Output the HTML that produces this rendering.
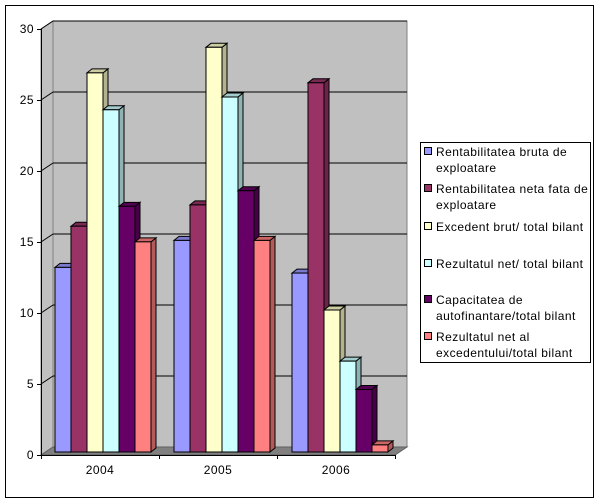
<!DOCTYPE html>
<html><head><meta charset="utf-8"><style>
body{margin:0;background:#fff;}
svg{display:block;font-family:"Liberation Sans",Arial,sans-serif;}
</style></head><body>
<svg id="s" width="600" height="504" xmlns="http://www.w3.org/2000/svg">
<rect x="5.5" y="5.5" width="588" height="492" fill="#fff" stroke="#000"/>
<polygon points="53,21 407,21 407,447 53,447" fill="#c0c0c0" stroke="#808080"/>
<polygon points="41,29 53,21 53,447 41,455" fill="#c0c0c0" stroke="#808080"/>
<polygon points="41,455 53,447 407,447 395,455" fill="#808080" stroke="#606060"/>
<g id="grid"></g>
<g id="bars"></g>
<line x1="41.5" y1="29" x2="41.5" y2="455" stroke="#000"/>
<line x1="41" y1="455.5" x2="395" y2="455.5" stroke="#000"/>
<g id="ax" font-size="12" letter-spacing="0.45"></g>
<rect x="420.5" y="142.5" width="170" height="220" fill="#fff" stroke="#000"/>
<g id="leg" font-size="12" letter-spacing="0.45"></g>
</svg>
<script>
var NS="http://www.w3.org/2000/svg";
function el(p,t,a,txt){var e=document.createElementNS(NS,t);for(var k in a)e.setAttribute(k,a[k]);if(txt)e.textContent=txt;document.getElementById(p).appendChild(e);}
var k=14.2;
for(var v=0;v<=30;v+=5){var yb=447-v*k,yf=455-v*k;
 if(v>0){el("grid","line",{x1:53,y1:yb,x2:407,y2:yb,stroke:"#000"});
 el("grid","line",{x1:41,y1:yf,x2:53,y2:yb,stroke:"#000"});}
 el("ax","line",{x1:37,y1:yf+.5,x2:41,y2:yf+.5,stroke:"#000"});
 el("ax","text",{x:34,y:yf+4,"text-anchor":"end"},String(v));}
[41,159,277,395].forEach(function(x){el("ax","line",{x1:x+.5,y1:455,x2:x+.5,y2:459,stroke:"#000"});});
["2004","2005","2006"].forEach(function(t,i){el("ax","text",{x:100+i*118,y:474,"text-anchor":"middle"},t);});
var cols=[["#9999ff","#6b6bb3","#7a7acc"],["#993366","#6b2447","#7a2952"],["#ffffcc","#b3b38f","#ccccA3"],["#ccffff","#8fb3b3","#a3cccc"],["#660066","#470047","#520052"],["#ff8080","#b35a5a","#cc6666"]];
var data=[[13,15.9,26.7,24.1,17.3,14.8],[14.9,17.4,28.5,25,18.4,14.9],[12.6,26,10,6.4,4.4,0.5]];
var starts=[55,174,292],w=16,dx=5,dy=4,base=452;
for(var g=0;g<3;g++)for(var s=0;s<6;s++){
 var x=starts[g]+s*w,y=base-data[g][s]*k,c=cols[s];
 el("bars","polygon",{points:[x+w,y,x+w+dx,y-dy,x+w+dx,base-dy,x+w,base].join(" "),fill:c[1],stroke:"#000","stroke-width":1});
 el("bars","polygon",{points:[x,y,x+dx,y-dy,x+w+dx,y-dy,x+w,y].join(" "),fill:c[2],stroke:"#000","stroke-width":1});
 el("bars","rect",{x:x,y:y,width:w,height:base-y,fill:c[0],stroke:"#000","stroke-width":1});
}
var L=[["Rentabilitatea bruta de","exploatare",152],["Rentabilitatea neta fata de","exploatare",189],["Excedent brut/ total bilant","",227],["Rezultatul net/ total bilant","",264],["Capacitatea de","autofinantare/total bilant",300],["Rezultatul net al","excedentului/total bilant",337]];
L.forEach(function(l,i){
 el("leg","rect",{x:424.5,y:l[2]-4.5,width:7,height:7,fill:cols[i][0],stroke:"#000"});
 el("leg","text",{x:436,y:l[2]+4},l[0]);
 if(l[1])el("leg","text",{x:436,y:l[2]+20},l[1]);
});
</script>
</body></html>
